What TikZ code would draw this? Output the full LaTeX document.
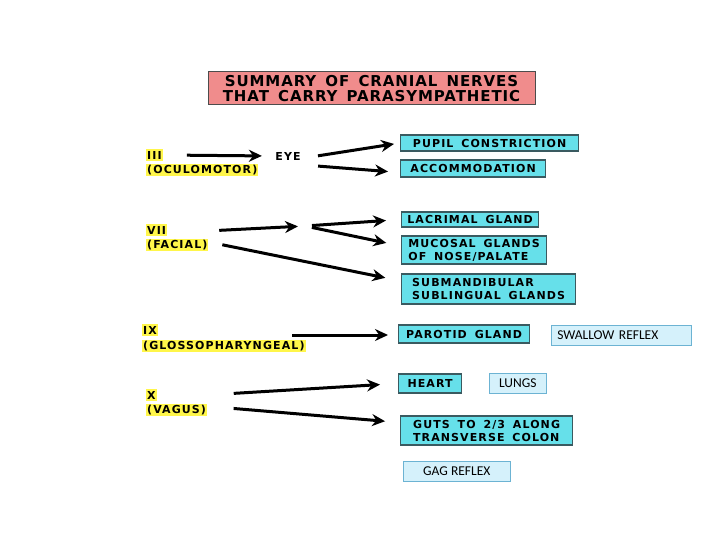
\documentclass[tikz,border=0pt]{standalone}
\usepackage{fontspec}
\setmainfont{Carlito}
\newfontfamily\capsfont{DejaVu Sans}[LetterSpace=10,WordSpace=1.6]
\newfontfamily\titlefont{DejaVu Sans}[LetterSpace=6,WordSpace=1.5]
\usetikzlibrary{arrows.meta,positioning,calc}
\definecolor{titlepink}{HTML}{F08C8C}
\definecolor{organcyan}{HTML}{66E0EA}
\definecolor{organline}{HTML}{3A5A60}
\definecolor{hilite}{HTML}{FFF64A}
\definecolor{reflexfill}{HTML}{D5F1FB}
\definecolor{reflexline}{HTML}{6CB3D3}

\begin{document}
\begin{tikzpicture}[
  x=1pt, y=-1pt,
  title/.style={draw=black!70, fill=titlepink, line width=1pt, minimum width=327pt, minimum height=33pt, align=center, inner sep=0pt, font=\titlefont\bfseries\fontsize{15}{15}\selectfont},
  nerve/.style={fill=hilite, anchor=west, inner xsep=1pt, inner ysep=1.5pt, font=\capsfont\bfseries\fontsize{11}{12}\selectfont},
  organ/.style={draw=organline, fill=organcyan, line width=1.2pt, anchor=west, align=left, inner xsep=5pt, inner ysep=2pt, font=\capsfont\bfseries\fontsize{11}{13}\selectfont},
  reflex/.style={draw=reflexline, fill=reflexfill, line width=0.6pt, anchor=west, minimum height=20pt, inner ysep=0pt, font=\fontsize{13.5}{15}\selectfont},
  arrow/.style={-{Stealth[length=13pt,width=12pt]}, line width=3pt, black}
]
\useasboundingbox (0,0) rectangle (720,540);
\node[title] (title) at (371.5,88.5) {SUMMARY OF CRANIAL NERVES\\THAT CARRY PARASYMPATHETIC};
% nerves
\node[nerve] (iii)    at (146,155) {III};
\node[nerve] (oculo)  at (146,170) {(OCULOMOTOR)};
\node[nerve] (vii)    at (146,230) {VII};
\node[nerve] (facial) at (146,245) {(FACIAL)};
\node[nerve] (ix)     at (142,330) {IX};
\node[nerve] (gloss)  at (142,346) {(GLOSSOPHARYNGEAL)};
\node[nerve] (xn)     at (146,395) {X};
\node[nerve] (vagus)  at (146,410) {(VAGUS)};
\node[font=\capsfont\bfseries\fontsize{11}{12}\selectfont] (eye) at (288,156) {EYE};
\coordinate (fork) at (305,226);
% targets
\node[organ, minimum width=178pt, minimum height=16pt] (pupil)    at (400,143)   {PUPIL CONSTRICTION};
\node[organ, minimum width=145pt, minimum height=17pt] (accom)    at (400,168.5) {ACCOMMODATION};
\node[organ, minimum width=137pt, minimum height=15pt] (lacrimal) at (401,219.5) {LACRIMAL GLAND};
\node[organ, minimum width=145pt, minimum height=28pt] (mucosal)  at (401,250)   {MUCOSAL GLANDS\\OF NOSE/PALATE};
\node[organ, minimum width=174pt, minimum height=30pt] (submand)  at (401,289)   {SUBMANDIBULAR\\SUBLINGUAL GLANDS};
\node[organ, minimum width=131pt, minimum height=18pt] (parotid)  at (398,334)   {PAROTID GLAND};
\node[organ, minimum width=63pt,  minimum height=19pt] (heart)    at (398,383.5) {HEART};
\node[organ, minimum width=172pt, minimum height=29pt] (guts)     at (400,430.5) {GUTS TO 2/3 ALONG\\TRANSVERSE COLON};
% reflexes
\node[reflex, minimum width=140pt, text width=128pt, align=left] (swallow) at (551,335) {SWALLOW REFLEX};
\node[reflex, minimum width=57pt] (lungs) at (489,383.5) {LUNGS};
\node[reflex, minimum width=107pt] (gag) at (403,471.5) {GAG REFLEX};
% connectors
\draw[arrow, shorten <=24pt, shorten >=10pt] (iii.east) -- (eye.west);
\draw[arrow, shorten <=14pt, shorten >=6pt] ([yshift=-2pt]eye.east) -- (pupil.west);
\draw[arrow, shorten <=14pt, shorten >=12pt] ([yshift=-9pt]eye.east) -- ([yshift=-4pt]accom.west);
\draw[arrow, shorten <=52pt, shorten >=7pt] ([yshift=-3pt]vii.east) -- (fork);
\draw[arrow, shorten <=7pt, shorten >=15pt] (fork) -- (lacrimal.west);
\draw[arrow, shorten <=7pt, shorten >=15pt] (fork) -- ([yshift=4pt]mucosal.west);
\draw[arrow, shorten <=14pt, shorten >=16pt] ([yshift=3pt]facial.east) -- ([yshift=8pt]submand.west);
\draw[arrow, shorten <=134pt, shorten >=10pt] ([yshift=-5pt]ix.east) -- ([yshift=-1pt]parotid.west);
\draw[arrow, shorten <=77pt, shorten >=18pt] ([yshift=-3pt]xn.east) -- (heart.west);
\draw[arrow, shorten <=77pt, shorten >=15pt] ([yshift=-7pt]xn.east) -- ([yshift=8pt]guts.west);
\end{tikzpicture}
\end{document}
